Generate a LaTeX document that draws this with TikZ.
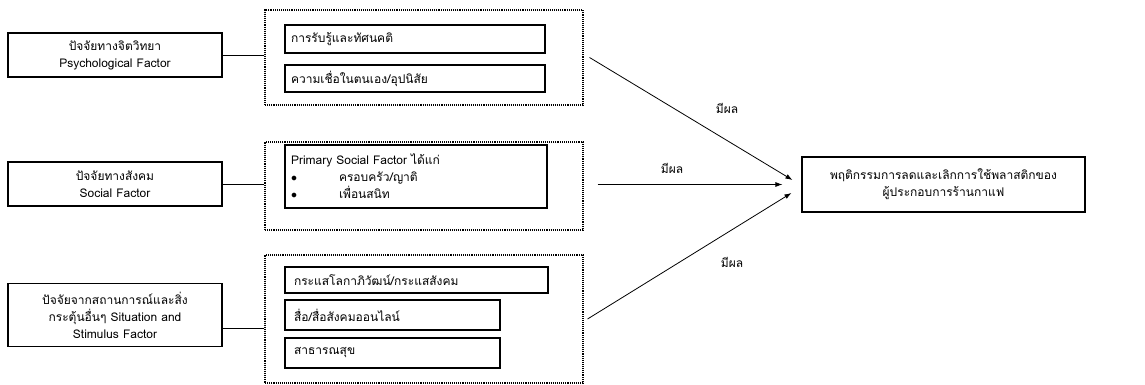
\documentclass[tikz,border=0pt]{standalone}
\usepackage{fontspec}
\setmainfont[Script=Thai]{Loma}
\usepackage{tikz}
\usetikzlibrary{positioning}
\usetikzlibrary{calc,arrows.meta}
\tikzset{
	-{Latex[length=7pt,width=5pt]},
	every node/.style = {font=\fontsize{12}{17}\selectfont},
	factor/.style = {rectangle, draw, line width=1.1pt, align=center,
	  minimum width=214pt, inner sep=2pt},
	group/.style = {rectangle, draw, densely dotted, line width=1.1pt,
	  minimum width=318pt, inner sep=0pt},
	item/.style = {rectangle, draw, line width=1.1pt, align=left,
	  text width=248pt, inner xsep=6pt, inner ysep=2pt},
	effect/.style = {inner sep=1pt},
	link/.style = {-, line width=0.8pt},
	impact/.style = {line width=0.8pt},
}

\begin{document}
\begin{tikzpicture}[x=1pt, y=-1pt]
	\useasboundingbox (0,0) rectangle (1145,385);
	% factors on the left
	\node (Psy) [factor, minimum height=44pt] at (115,55)
	  {ปัจจัยทางจิตวิทยา\\Psychological Factor};
	\node (Soc) [factor, minimum height=44pt] at (115,184)
	  {ปัจจัยทางสังคม\\Social Factor};
	\node (Sit) [factor, minimum height=63pt] at (115,315)
	  {ปัจจัยจากสถานการณ์และสิ่ง\\กระตุ้นอื่นๆ Situation and\\Stimulus Factor};
	% groups
	\node (GrpA) [group, minimum height=95pt] at (424,57.5) {};
	\node (GrpB) [group, minimum height=88pt] at (424,186) {};
	\node (GrpC) [group, minimum height=128pt] at (424,319) {};
	\node (Perc) [item, minimum height=28pt] at (415,39)
	  {การรับรู้และทัศนคติ};
	\node (Belief) [item, minimum height=27pt] at (415,78.5)
	  {ความเชื่อในตนเอง/อุปนิสัย};
	\node (Primary) [item, text width=250pt, minimum height=63pt] at (416,176.5)
	  {Primary Social Factor ได้แก่\\
	   \makebox[48pt][l]{$\bullet$}ครอบครัว/ญาติ\\
	   \makebox[48pt][l]{$\bullet$}เพื่อนสนิท};
	\node (Trend) [item, text width=245pt, inner xsep=9pt, minimum height=26pt] at (416.5,280)
	  {กระแสโลกาภิวัฒน์/กระแสสังคม};
	\node (Media) [item, text width=197pt, inner xsep=9pt, minimum height=30pt] at (392.5,315)
	  {สื่อ/สื่อสังคมออนไลน์};
	\node (Health) [item, text width=197pt, inner xsep=9pt, minimum height=30pt] at (392.5,353)
	  {สาธารณสุข};
	% outcome
	\node (Behav) [factor, minimum width=283pt, minimum height=55pt] at (943.5,184.5)
	  {พฤติกรรมการลดและเลิกการใช้พลาสติกของ\\ผู้ประกอบการร้านกาแฟ};
	\coordinate (TipA) at ($(Behav.west)+(-9,-4.5)$);
	\coordinate (TipB) at ($(Behav.west)+(-19,0)$);
	\coordinate (TipC) at ($(Behav.west)+(-10,8.5)$);
	\coordinate (StartB) at ([xshift=14pt]GrpB.east);
	% links
	\draw [link] (Psy.east) -- (Psy.east -| GrpA.west);
	\draw [link] (Soc.east) -- (Soc.east -| GrpB.west);
	\draw [link] ([yshift=-13pt]Sit.east) -- ([yshift=-13pt]Sit.east -| GrpC.west);
	\draw [impact] ([xshift=6pt]GrpA.east) -- (TipA);
	\draw [impact] (StartB |- TipB) -- (TipB);
	\draw [impact] ([xshift=4pt]GrpC.east) -- (TipC);
	\node [effect] at (727,108) {มีผล};
	\node [effect] at (672,168) {มีผล};
	\node [effect] at (732,262) {มีผล};
\end{tikzpicture}
\end{document}
